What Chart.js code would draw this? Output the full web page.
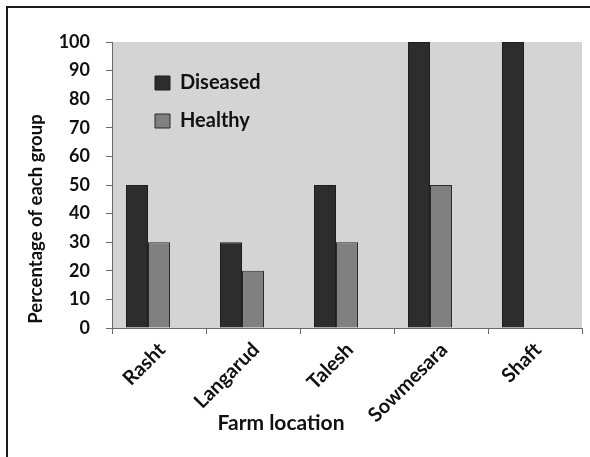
<!DOCTYPE html>
<html>
<head>
<meta charset="utf-8">
<script src="https://cdn.jsdelivr.net/npm/chart.js@4.4.1/dist/chart.umd.min.js"></script>
<style>
  html, body { margin:0; padding:0; background:#fff; overflow:hidden; }
  #wrap { position:relative; width:590px; height:457px; }
  #frame { position:absolute; left:6px; top:6px; width:600px; height:470px; border:2px solid #1a1a1a; box-sizing:border-box; pointer-events:none; }
  canvas { position:absolute; left:0; top:0; }
</style>
</head>
<body>
<div id="wrap">
  <div id="frame"></div>
  <canvas id="c" width="590" height="457"></canvas>
</div>
<script>
const categories = ['Rasht', 'Langarud', 'Talesh', 'Sowmesara', 'Shaft'];
const diseased = [50, 30, 50, 100, 100];
const healthy = [30, 20, 30, 50, 0];
const spacer = [null, null, null, null, null];
const seriesNames = ['Diseased', 'Healthy'];
const xTitle = 'Farm location';
const yTitle = 'Percentage of each group';

const FONT = 'Lato, "Open Sans", sans-serif';
const W = 'bold';

const plotBg = {
  id: 'plotBg',
  beforeDraw(chart) {
    const {ctx, chartArea: a} = chart;
    ctx.save();
    ctx.fillStyle = '#d4d4d4';
    ctx.fillRect(a.left, a.top, a.right - a.left, a.bottom - a.top);
    ctx.restore();
  }
};

const legendPlace = {
  id: 'legendPlace',
  afterLayout(chart) {
    const l = chart.legend, a = chart.chartArea;
    const w = l.width, h = l.height;
    l.left = a.left + 25; l.top = a.top + 13;
    l.right = l.left + w; l.bottom = l.top + h;
  }
};

const axisTitles = {
  id: 'axisTitles',
  afterDraw(chart) {
    const ctx = chart.ctx;
    ctx.save();
    ctx.fillStyle = '#111';
    ctx.textAlign = 'center';
    ctx.textBaseline = 'middle';
    ctx.font = W + ' 21px ' + FONT;
    ctx.fillText(xTitle, 281, 423);
    ctx.font = W + ' 18.5px ' + FONT;
    ctx.translate(36, 219);
    ctx.rotate(-Math.PI / 2);
    ctx.fillText(yTitle, 0, 0);
    ctx.restore();
  }
};

new Chart(document.getElementById('c'), {
  type: 'bar',
  data: {
    labels: categories,
    datasets: [
      { label: seriesNames[0], data: diseased, backgroundColor: '#2d2d2d', borderColor: '#1e1e1e', borderWidth: 1 },
      { label: seriesNames[1], data: healthy, backgroundColor: '#808080', borderColor: '#2a2a2a', borderWidth: 1 },
      { label: '', data: spacer, backgroundColor: 'rgba(0,0,0,0)', borderWidth: 0 }
    ]
  },
  options: {
    responsive: false,
    animation: false,
    devicePixelRatio: 1,
    layout: { padding: { top: 42, right: 8, left: 0, bottom: 0 } },
    datasets: { bar: { categoryPercentage: 0.702, barPercentage: 1.0 } },
    plugins: {
      legend: {
        position: 'chartArea',
        align: 'start',
        labels: {
          boxWidth: 15, boxHeight: 14, padding: 18,
          color: '#111',
          font: { family: FONT, size: 20, weight: W },
          filter: (item) => item.text !== ''
        }
      },
      tooltip: { enabled: false }
    },
    scales: {
      x: {
        type: 'category',
        offset: true,
        afterFit(s) { s.height = 129; },
        grid: { display: true, drawOnChartArea: false, offset: true, tickLength: 6, color: '#6a6a6a' },
        border: { display: true, color: '#6a6a6a', width: 1 },
        ticks: {
          minRotation: 45, maxRotation: 45, padding: 4, labelOffset: 3, color: '#111',
          font: { family: FONT, size: 20, weight: W }
        }
      },
      y: {
        min: 0, max: 100,
        afterFit(s) { s.width = 112; },
        grid: { display: true, drawOnChartArea: false, tickLength: 6, color: '#6a6a6a' },
        border: { display: true, color: '#6a6a6a', width: 1 },
        ticks: {
          stepSize: 10, padding: 16, color: '#111',
          font: { family: FONT, size: 18, weight: W }
        }
      }
    }
  },
  plugins: [plotBg, legendPlace, axisTitles]
});
</script>
</body>
</html>
